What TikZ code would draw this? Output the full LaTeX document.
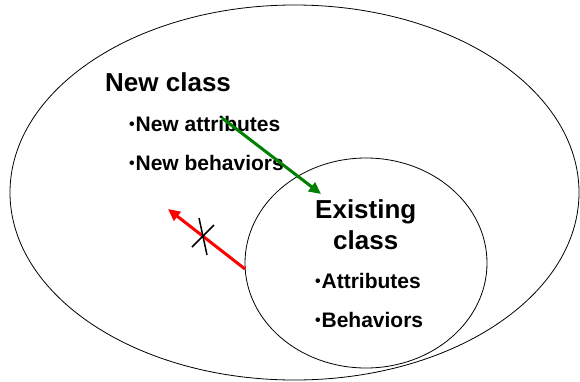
\documentclass[tikz,border=0pt]{standalone}
\usepackage{fontspec}
\setmainfont{Liberation Sans}
\usetikzlibrary{shapes.geometric,arrows.meta}
\definecolor{arrgreen}{RGB}{0,128,0}
\definecolor{arrred}{RGB}{255,0,0}
\newcommand\smbul{{\fontsize{16}{16}\selectfont\raisebox{1.2pt}{•}}\kern0.8pt}
\tikzset{
  blob/.style={draw=black,line width=0.8pt,ellipse,inner sep=0pt},
  title/.style={anchor=base west,inner sep=0pt,font=\fontsize{26}{30}\selectfont\bfseries},
  item/.style={anchor=base west,inner sep=0pt,font=\fontsize{21}{25}\selectfont\bfseries},
  link/.style={line width=3pt,-{Triangle[length=12pt,width=11pt]}},
  cross/.style={line width=1.5pt,black}
}
\begin{document}
\begin{tikzpicture}[x=1pt,y=-1pt]
\useasboundingbox (0,0) rectangle (580,381);
\node[blob,minimum width=569pt,minimum height=375pt] (outer) at (294.5,192.5) {};
\node[blob,minimum width=242pt,minimum height=210pt] (inner) at (366,263) {};
\node[title] (newclass) at (105,91) {New class};
\node[item] (newattr) at (129,131) {\smbul New attributes};
\node[item] (newbeh) at (129,170) {\smbul New behaviors};
\node[title] (exist) at (315,218) {Existing};
\node[title] (cls) at (333,249) {class};
\node[item] (attr) at (315,288) {\smbul Attributes};
\node[item] (beh) at (315,327) {\smbul Behaviors};
\coordinate (gs) at (222,118);
\coordinate (ge) at (321,194);
\coordinate (rs) at (245,269);
\coordinate (re) at (168,209);
\coordinate (c1a) at (199,218);
\coordinate (c1b) at (207,255);
\coordinate (c2a) at (192,247);
\coordinate (c2b) at (214,225);
\draw[link,arrgreen] (gs) -- (ge);
\draw[link,arrred] (rs) -- (re);
\draw[cross] (c1a) -- (c1b);
\draw[cross] (c2a) -- (c2b);
\end{tikzpicture}
\end{document}
